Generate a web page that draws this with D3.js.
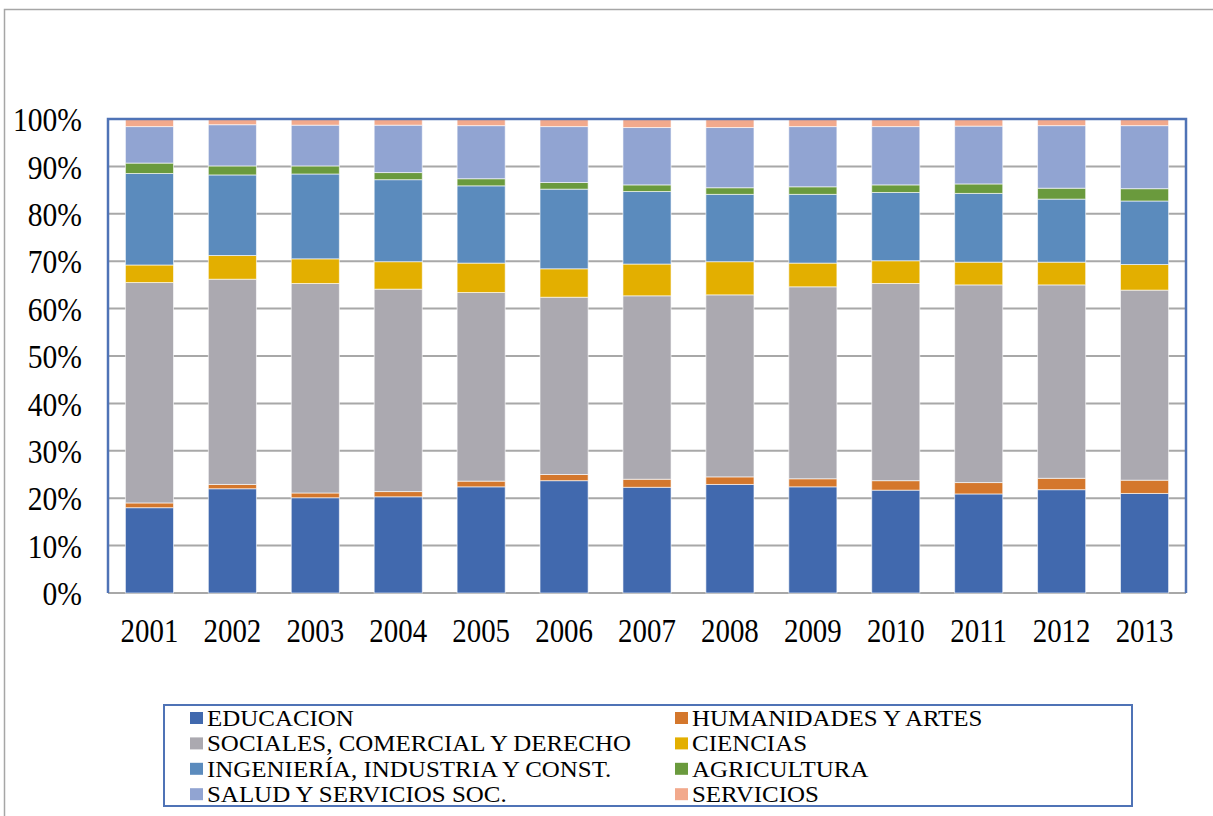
<!DOCTYPE html>
<html>
<head>
<meta charset="utf-8">
<script src="https://cdn.jsdelivr.net/npm/d3@7"></script>
<style>
    body { margin: 0; background: #fff; }
    #chart { width: 1213px; height: 816px; }
</style>
</head>
<body>
<div id="chart"></div>
<script>
//Datos
const YEARS = ['2001','2002','2003','2004','2005','2006','2007','2008','2009','2010','2011','2012','2013'];
const SERIES = ['EDUCACION','HUMANIDADES Y ARTES','SOCIALES, COMERCIAL Y DERECHO','CIENCIAS',
    'INGENIERÍA, INDUSTRIA Y CONST.','AGRICULTURA','SALUD Y SERVICIOS SOC.','SERVICIOS'];

//Porcentajes por año
const EDUCACION   = [18.0, 22.0, 20.1, 20.3, 22.4, 23.7, 22.3, 22.9, 22.4, 21.7, 20.9, 21.8, 21.0];
const HUMANIDADES = [ 1.0,  0.9,  1.0,  1.1,  1.2,  1.3,  1.7,  1.6,  1.7,  2.0,  2.4,  2.4,  2.8];
const SOCIALES    = [46.5, 43.3, 44.2, 42.7, 39.8, 37.4, 38.7, 38.4, 40.5, 41.6, 41.7, 40.8, 40.1];
const CIENCIAS    = [ 3.7,  5.0,  5.2,  5.8,  6.2,  6.0,  6.7,  7.0,  5.0,  4.8,  4.8,  4.8,  5.4];
const INGENIERIA  = [19.3, 17.0, 17.9, 17.3, 16.3, 16.8, 15.3, 14.2, 14.5, 14.4, 14.5, 13.3, 13.4];
const AGRICULTURA = [ 2.2,  1.9,  1.7,  1.5,  1.5,  1.4,  1.4,  1.4,  1.6,  1.6,  2.0,  2.3,  2.6];
const SALUD       = [ 7.7,  8.7,  8.6, 10.0, 11.2, 11.8, 12.1, 12.7, 12.7, 12.3, 12.2, 13.2, 13.3];
const SERVICIOS   = [ 1.6,  1.2,  1.3,  1.3,  1.4,  1.6,  1.8,  1.8,  1.6,  1.6,  1.5,  1.4,  1.4];

const Y_TICKS = [0, 10, 20, 30, 40, 50, 60, 70, 80, 90, 100];

//Colores
const COLORS = ['#4169AE', '#D4772C', '#ABA9B0', '#E3AF00', '#5B8BBD', '#6A9A3D', '#91A4D2', '#F2A98C'];

const VALUES = [EDUCACION, HUMANIDADES, SOCIALES, CIENCIAS, INGENIERIA, AGRICULTURA, SALUD, SERVICIOS];

const FONT = '"Liberation Serif", Tinos, "Times New Roman", "DejaVu Serif", serif';

let data = YEARS.map(function(y, i) {
    let row = { year: y };
    SERIES.forEach(function(s, j) { row[s] = VALUES[j][i]; });
    return row;
});

let plot = { left: 108, right: 1186, top: 119, bottom: 593 };

let svg = d3.select('#chart')
    .append('svg')
        .attr('width', 1213)
        .attr('height', 816)
        .style('font-family', FONT);

//Marco exterior
svg.append('path')
    .attr('d', 'M4.5,816 L4.5,9.5 L1213,9.5')
    .attr('fill', 'none')
    .attr('stroke', '#A6A6A6')
    .attr('stroke-width', 1.5);

let x = d3.scaleBand()
    .domain(YEARS)
    .range([plot.left, plot.right])
    .paddingInner(0.42)
    .paddingOuter(0.21);

let y = d3.scaleLinear()
    .domain([0, 100])
    .range([plot.bottom, plot.top]);

//Líneas de cuadrícula
svg.append('g')
    .selectAll('line')
    .data(Y_TICKS)
    .enter()
    .append('line')
        .attr('x1', plot.left)
        .attr('x2', plot.right)
        .attr('y1', function(d) { return y(d); })
        .attr('y2', function(d) { return y(d); })
        .attr('stroke', '#A8A8A8')
        .attr('stroke-width', 2);

//Barras apiladas
let stacked = d3.stack().keys(SERIES)(data);

svg.append('g')
    .selectAll('g')
    .data(stacked)
    .enter()
    .append('g')
        .attr('fill', function(d, i) { return COLORS[i]; })
    .selectAll('rect')
    .data(function(d) { return d; })
    .enter()
    .append('rect')
        .attr('x', function(d) { return x(d.data.year); })
        .attr('y', function(d) { return y(d[1]); })
        .attr('width', x.bandwidth())
        .attr('height', function(d) { return y(d[0]) - y(d[1]); })
        .attr('stroke', 'rgba(255,255,255,0.6)')
        .attr('stroke-width', 1);

//Borde del área de trazado
svg.append('path')
    .attr('d', 'M' + plot.left + ',' + plot.bottom + ' L' + plot.left + ',' + plot.top +
        ' L' + plot.right + ',' + plot.top + ' L' + plot.right + ',' + plot.bottom)
    .attr('fill', 'none')
    .attr('stroke', '#4F73B6')
    .attr('stroke-width', 2.5);

//Eje Y
svg.append('g')
    .selectAll('text')
    .data(Y_TICKS)
    .enter()
    .append('text')
        .attr('text-anchor', 'end')
        .attr('dominant-baseline', 'central')
        .attr('font-family', FONT)
        .attr('font-size', 34)
        .attr('fill', '#000')
        .attr('transform', function(d) { return 'translate(82,' + (y(d) + 1) + ') scale(0.87,1)'; })
        .text(function(d) { return d + '%'; });

//Eje X
svg.append('g')
    .selectAll('text')
    .data(YEARS)
    .enter()
    .append('text')
        .attr('text-anchor', 'middle')
        .attr('font-family', FONT)
        .attr('font-size', 34)
        .attr('fill', '#000')
        .attr('transform', function(d) { return 'translate(' + (x(d) + x.bandwidth() / 2) + ',642) scale(0.85,1)'; })
        .text(function(d) { return d; });

//Leyenda
let legend = svg.append('g');

legend.append('rect')
    .attr('x', 164)
    .attr('y', 705)
    .attr('width', 968)
    .attr('height', 101)
    .attr('fill', 'none')
    .attr('stroke', '#4F73B6')
    .attr('stroke-width', 2);

let items = legend.selectAll('g.item')
    .data(SERIES)
    .enter()
    .append('g')
        .attr('class', 'item')
        .attr('transform', function(d, i) {
            let col = i % 2, row = Math.floor(i / 2);
            return 'translate(' + (col === 0 ? 190 : 675) + ',' + (718 + row * 25.4) + ')';
        });

items.append('rect')
    .attr('x', 0)
    .attr('y', -6)
    .attr('width', 13)
    .attr('height', 12)
    .attr('fill', function(d, i) { return COLORS[i]; });

items.append('text')
    .attr('font-family', FONT)
    .attr('font-size', 23)
    .attr('fill', '#000')
    .attr('transform', 'translate(17,8) scale(1.085,1)')
    .text(function(d) { return d; });
</script>
</body>
</html>
